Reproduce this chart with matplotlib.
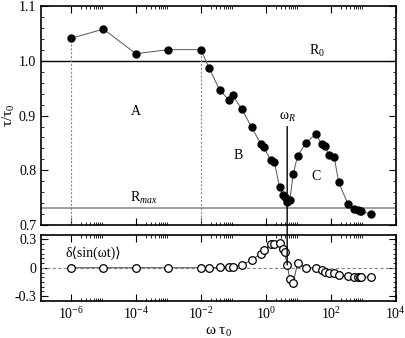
import matplotlib
matplotlib.use("Agg")
import matplotlib.pyplot as plt
from matplotlib.patches import ConnectionPatch
from matplotlib.ticker import FixedLocator, NullFormatter, MultipleLocator

# ==== FONT ====
plt.rcParams['font.family'] = ['Liberation Serif', 'DejaVu Serif', 'DejaVu Sans']
plt.rcParams['mathtext.fontset'] = 'custom'
plt.rcParams['mathtext.rm'] = 'Liberation Serif'
plt.rcParams['mathtext.it'] = 'Liberation Serif:italic'
plt.rcParams['mathtext.default'] = 'regular'

# ==== DATI ====
omega_tau = [1e-6, 1e-5, 1e-4, 1e-3, 1e-2,
             0.018, 0.0376, 0.0711, 0.0944, 0.183,
             0.363, 0.702, 0.867, 1.40, 1.80,
             2.63, 3.33, 3.76, 4.52, 5.47,
             6.92, 9.44, 17.0, 33.9, 51.8,
             65.3, 89.1, 126, 174, 339,
             525, 661, 776, 871, 1660]
tau_ratio = [1.041, 1.058, 1.013, 1.0205, 1.0205,
             0.9866, 0.947, 0.929, 0.937, 0.9115,
             0.879, 0.848, 0.842, 0.819, 0.816,
             0.770, 0.755, 0.751, 0.743, 0.746,
             0.793, 0.826, 0.850, 0.866, 0.849,
             0.844, 0.828, 0.825, 0.778, 0.738,
             0.7296, 0.728, 0.7265, 0.7255, 0.720]
delta_sin = [0, 0, 0, 0, 0,
             0, 0.005, 0.01, 0.012, 0.03,
             0.08, 0.15, 0.186, 0.246, 0.246,
             0.263, 0.193, 0.168, 0.03, -0.12,
             -0.165, 0.05, 0, 0, -0.02,
             -0.04, -0.05, -0.06, -0.075, -0.09,
             -0.10, -0.10, -0.10, -0.10, -0.095]

R0 = 1.0
Rmax = 0.732
region_edges = [1e-6, 1e-2]     # linee tratteggiate verticali
omega_R = 4.52
xticks = [1e-6, 1e-4, 1e-2, 1e0, 1e2, 1e4]
xticklabels = [r'$10^{-6}$', r'$10^{-4}$', r'$10^{-2}$', r'$10^{0}$', r'$10^{2}$', r'$10^{4}$']
xminor = [k * 10.0**e for e in [-6, -4, -2, 0, 2] for k in range(2, 10)]

# ==== FIGURA ====
fig = plt.figure(figsize=(4.06, 3.38), dpi=100)
ax1 = fig.add_axes([0.101, 0.334, 0.874, 0.648])
ax2 = fig.add_axes([0.101, 0.1095, 0.874, 0.1944])

xlim = (1.2e-7, 1e4)
fs = 10

for ax in (ax1, ax2):
    ax.set_xscale('log')
    ax.set_xlim(*xlim)
    ax.xaxis.set_major_locator(FixedLocator(xticks))
    ax.xaxis.set_minor_locator(FixedLocator(xminor))
    ax.xaxis.set_minor_formatter(NullFormatter())
    ax.tick_params(which='both', direction='in', top=True, right=True, labelsize=fs)
    ax.tick_params(which='major', length=5, width=0.8)
    ax.tick_params(which='minor', length=2.5, width=0.6)
    for s in ax.spines.values():
        s.set_linewidth(1.2)

# --- pannello superiore ---
ax1.axhline(R0, color='black', lw=1.0)
ax1.axhline(Rmax, color='#999999', lw=1.3)
for xe in region_edges:
    ye = tau_ratio[omega_tau.index(xe)]
    ax1.plot([xe, xe], [0.7, ye], ls='--', color='#888888', lw=0.8, dashes=(2, 1.5))
ax1.plot(omega_tau, tau_ratio, '-', color='#555555', lw=0.7, zorder=3)
ax1.plot(omega_tau, tau_ratio, 'o', color='black', ms=5, zorder=4)
ax1.set_ylim(0.7, 1.1)
ax1.yaxis.set_major_locator(MultipleLocator(0.1))
ax1.yaxis.set_minor_locator(MultipleLocator(0.02))
ax1.set_yticks([0.7, 0.8, 0.9, 1.0, 1.1])
ax1.set_yticklabels(['0.7', '0.8', '0.9', '1.0', '1.1'])
ax1.set_xticklabels([])
ax1.set_ylabel(r'τ/τ$_0$', fontsize=11)
ax1.yaxis.set_label_coords(-0.068, 0.5)

ax1.text(1e-4, 0.907, 'A', fontsize=fs, ha='center', va='center')
ax1.text(0.14, 0.828, 'B', fontsize=fs, ha='center', va='center')
ax1.text(35, 0.788, 'C', fontsize=fs, ha='center', va='center')
ax1.text(38, 1.004, r'R$_{\mathit{0}}$', fontsize=fs, ha='center', va='bottom')
ax1.text(1.7e-4, 0.734, r'R$_{\mathit{max}}$', fontsize=fs, ha='center', va='bottom')
ax1.text(omega_R, 0.885, r'ω$_{\mathit{R}}$', fontsize=fs, ha='center', va='bottom')

# --- pannello inferiore ---
ax2.axhline(0, color='#888888', lw=0.8, ls='--', dashes=(3, 2))
ax2.plot(omega_tau, delta_sin, '-', color='#444444', lw=0.7, zorder=3)
ax2.plot(omega_tau, delta_sin, 'o', mfc='white', mec='black', mew=0.9, ms=5.5, zorder=4)
ax2.set_ylim(-0.35, 0.342)
ax2.set_yticks([-0.3, 0, 0.3])
ax2.set_yticklabels(['-0.3', '0', '0.3'])
ax2.yaxis.set_minor_locator(MultipleLocator(0.05))
ax2.set_xticklabels(xticklabels)
ax2.set_xlabel(r'ω τ$_0$', fontsize=11, labelpad=2)
ax2.text(7e-7, 0.158, 'δ⟨sin(ωt)⟩', fontsize=fs, ha='left', va='center')

# linea omega_R che attraversa i due pannelli
con = ConnectionPatch(xyA=(omega_R, 0.88), coordsA=ax1.transData,
                      xyB=(omega_R, 0.03), coordsB=ax2.transData,
                      color='black', lw=1.0)
fig.add_artist(con)

fig.savefig('out.png', dpi=100)
